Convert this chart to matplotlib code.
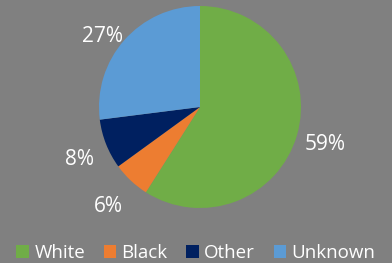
import matplotlib.pyplot as plt
from matplotlib.transforms import ScaledTranslation

categories = ["White", "Black", "Other", "Unknown"]
shares = [59, 6, 8, 27]
colors = ["#70AD47", "#ED7D31", "#002060", "#5B9BD5"]

plt.rcParams["font.family"] = ["Open Sans", "DejaVu Sans"]

W, H = 392, 263
fig = plt.figure(figsize=(W / 100, H / 100), dpi=100, facecolor="#808080")

# pie centre (200, 107) px, radius ~101 px
cx, cy, r = 200, 107, 101
ax = fig.add_axes([(cx - r) / W, (H - cy - r) / H, 2 * r / W, 2 * r / H])
ax.set_facecolor("#808080")

wedges, texts = ax.pie(
    shares, colors=colors, startangle=90, counterclock=False,
    labels=[f"{s}%" for s in shares], labeldistance=1.25,
    textprops=dict(color="white", fontsize=15, ha="center", va="center"),
)
# nudge labels to where Excel put them (pixels, y down)
nudges = [(4, 2), (-5, 7), (-3, 6), (-3, 13)]
for t, (dx, dy) in zip(texts, nudges):
    t.set_transform(t.get_transform()
                    + ScaledTranslation(dx / 100, -dy / 100, fig.dpi_scale_trans))

ax.set_xlim(-1, 1)
ax.set_ylim(-1, 1)
ax.set_aspect("equal")
ax.axis("off")

fig.legend(wedges, categories, loc="center", ncol=4, frameon=False,
           bbox_to_anchor=(0.5, 1 - 253 / H), fontsize=13.5, labelcolor="white",
           handlelength=0.65, handleheight=0.65, handletextpad=0.3,
           columnspacing=1.0, borderpad=0)

fig.savefig("out.png", dpi=100, facecolor=fig.get_facecolor())
